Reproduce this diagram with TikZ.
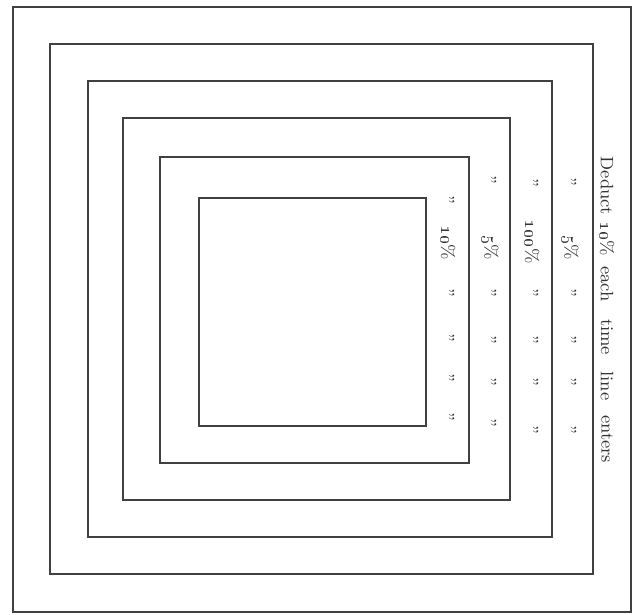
\documentclass[tikz,border=0pt]{standalone}
\usepackage{amsmath,amssymb}
\usepackage[dvipsnames]{xcolor}

\tikzset{
    ramka/.style={line width=1.3pt, black!75},
    slovo/.style={rotate=-90, text=black!80, inner sep=0pt,
        font=\fontsize{9}{11}\selectfont},
}
\newcommand{\ditto}{''}
\newcommand{\pct}[1]{\oldstylenums{#1}\%}

\begin{document}
\begin{tikzpicture}[x=0.5pt, y=-0.5pt]
    \useasboundingbox (0,0) rectangle (633,615);

    % Вложенные квадраты
    \foreach \l/\t/\r/\b in {13/7/631/612, 50/44/593/574, 88/81/552/537,
                            123/118/510/500, 160/157/469/463, 199/198/426/426}
        \draw[ramka] (\l,\t) rectangle (\r,\b);

    % Главная надпись
    \foreach \y/\w [count=\i] in {186/Deduct, 239/{\pct{10}}, 284/each,
                                  337/time, 386/line, 439/enters}
        \node[slovo] (deduct-\i) at (607,\y) {\w};

    % Повторы по полосам
    \foreach \y/\w [count=\i] in {182/\ditto, 248/{\pct{5}}, 293/\ditto,
                                  340/\ditto, 382/\ditto, 430/\ditto}
        \node[slovo] (band2-\i) at (570,\y) {\w};
    \foreach \y/\w [count=\i] in {183/\ditto, 242/{\pct{100}}, 293/\ditto,
                                  340/\ditto, 382/\ditto, 430/\ditto}
        \node[slovo] (band3-\i) at (532,\y) {\w};
    \foreach \y/\w [count=\i] in {180/\ditto, 248/{\pct{5}}, 293/\ditto,
                                  340/\ditto, 382/\ditto, 423/\ditto}
        \node[slovo] (band4-\i) at (490,\y) {\w};
    \foreach \y/\w [count=\i] in {200/\ditto, 243/{\pct{10}}, 293/\ditto,
                                  338/\ditto, 378/\ditto, 417/\ditto}
        \node[slovo] (band5-\i) at (448,\y) {\w};
\end{tikzpicture}
\end{document}
